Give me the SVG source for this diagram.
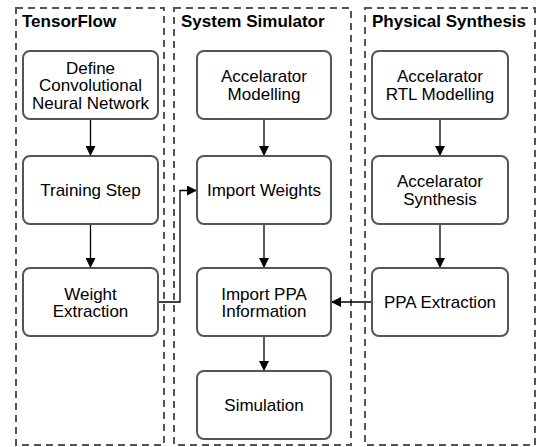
<svg xmlns="http://www.w3.org/2000/svg" width="539" height="447" viewBox="0 0 539 447">
<style>
.lane{fill:none;stroke:#555;stroke-width:2;stroke-dasharray:7 5}
.title{font-family:"Liberation Sans",Arial,sans-serif;font-weight:bold;font-size:17px;fill:#000}
.box{fill:#fff;stroke:#555;stroke-width:2}
.lbl{font-family:"Liberation Sans",Arial,sans-serif;font-size:17px;fill:#000;text-anchor:middle}
.edge{fill:none;stroke:#000;stroke-width:1.3;marker-end:url(#arr)}
</style>
<defs>
<marker id="arr" markerUnits="userSpaceOnUse" markerWidth="10" markerHeight="10" refX="10" refY="5" orient="auto">
<path d="M0,0 L10,5 L0,10 z" fill="#000"/>
</marker>
</defs>
<g id="lane-tensorflow">
<rect class="lane" x="16" y="8" width="148" height="437"/>
<text class="title" x="22" y="27">TensorFlow</text>
</g>
<g id="lane-simulator">
<rect class="lane" x="174" y="8" width="177" height="437"/>
<text class="title" x="181" y="27">System Simulator</text>
</g>
<g id="lane-synthesis">
<rect class="lane" x="365" y="8" width="170" height="437"/>
<text class="title" x="372" y="27">Physical Synthesis</text>
</g>
<g id="connectors">
<line class="edge" x1="90.5" y1="119" x2="90.5" y2="156"/>
<line class="edge" x1="90.5" y1="224" x2="90.5" y2="268"/>
<line class="edge" x1="264" y1="119" x2="264" y2="156"/>
<line class="edge" x1="264" y1="224" x2="264" y2="268"/>
<line class="edge" x1="264" y1="336" x2="264" y2="371"/>
<line class="edge" x1="440" y1="119" x2="440" y2="156"/>
<line class="edge" x1="440" y1="224" x2="440" y2="268"/>
<path class="edge" d="M158,302 H180 V190.5 H197"/>
<path class="edge" d="M372,302 H331"/>
</g>
<g id="n-define">
<rect class="box" x="23" y="51" width="135" height="68" rx="7"/>
<text class="lbl" x="90.5" y="73.5">Define</text>
<text class="lbl" x="90.5" y="91">Convolutional</text>
<text class="lbl" x="90.5" y="108.5">Neural Network</text>
</g>
<g id="n-training">
<rect class="box" x="23" y="156" width="135" height="68" rx="7"/>
<text class="lbl" x="90.5" y="196">Training Step</text>
</g>
<g id="n-weight-extraction">
<rect class="box" x="23" y="268" width="135" height="68" rx="7"/>
<text class="lbl" x="90.5" y="299.5">Weight</text>
<text class="lbl" x="90.5" y="317">Extraction</text>
</g>
<g id="n-acc-modelling">
<rect class="box" x="197" y="51" width="134" height="68" rx="7"/>
<text class="lbl" x="264" y="82">Accelarator</text>
<text class="lbl" x="264" y="99.5">Modelling</text>
</g>
<g id="n-import-weights">
<rect class="box" x="197" y="156" width="134" height="68" rx="7"/>
<text class="lbl" x="264" y="196">Import Weights</text>
</g>
<g id="n-import-ppa">
<rect class="box" x="197" y="268" width="134" height="68" rx="7"/>
<text class="lbl" x="264" y="299.5">Import PPA</text>
<text class="lbl" x="264" y="317">Information</text>
</g>
<g id="n-simulation">
<rect class="box" x="197" y="371" width="134" height="68" rx="7"/>
<text class="lbl" x="264" y="411">Simulation</text>
</g>
<g id="n-rtl">
<rect class="box" x="372" y="51" width="136" height="68" rx="7"/>
<text class="lbl" x="440" y="82">Accelarator</text>
<text class="lbl" x="440" y="99.5">RTL Modelling</text>
</g>
<g id="n-synthesis">
<rect class="box" x="372" y="156" width="136" height="68" rx="7"/>
<text class="lbl" x="440" y="187">Accelarator</text>
<text class="lbl" x="440" y="204.5">Synthesis</text>
</g>
<g id="n-ppa-extraction">
<rect class="box" x="372" y="268" width="136" height="68" rx="7"/>
<text class="lbl" x="440" y="308">PPA Extraction</text>
</g>
</svg>
